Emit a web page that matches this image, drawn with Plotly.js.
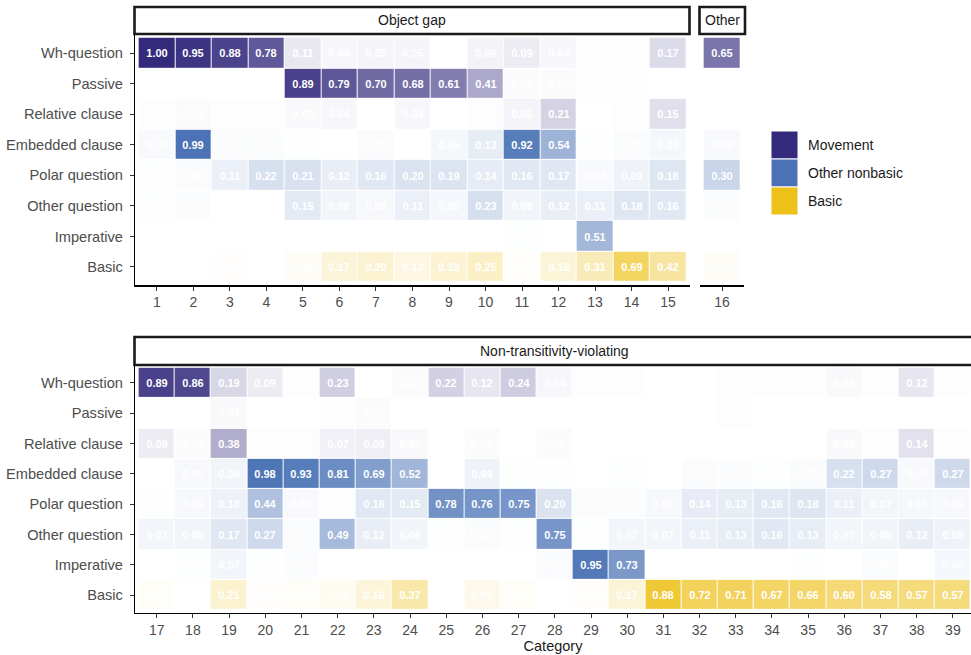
<!DOCTYPE html>
<html>
<head>
<meta charset="utf-8">
<script src="https://cdn.plot.ly/plotly-3.0.1.min.js"></script>
<style>
  html, body { margin: 0; padding: 0; background: #ffffff; }
  #chart { width: 971px; height: 655px; }
</style>
</head>
<body>
<div id="chart"></div>
<script>
// Construction types (rows, top to bottom) and the group each belongs to
const rowLabels = ["Wh-question", "Passive", "Relative clause", "Embedded clause",
                   "Polar question", "Other question", "Imperative", "Basic"];
const rowGroups = ["Movement", "Movement", "Movement", "Other nonbasic",
                   "Other nonbasic", "Other nonbasic", "Other nonbasic", "Basic"];

const groupNames = ["Movement", "Other nonbasic", "Basic"];
const groupColors = ["#332a7c", "#4a72b5", "#edc01a"];

// Proportions per category 1..39 (null = no cell)
const whQuestion = [1.00, 0.95, 0.88, 0.78, 0.11, 0.04, 0.05, 0.05, null, 0.06, 0.09, 0.04, 0.01, 0.01, 0.17, 0.65,
  0.89, 0.86, 0.19, 0.09, 0.01, 0.23, null, 0.02, 0.22, 0.12, 0.24, 0.04, 0.01, 0.01, null, null, 0.01, 0.01, 0.01, 0.03, 0.01, 0.12, 0.01];
const passive = [null, null, null, null, 0.89, 0.79, 0.70, 0.68, 0.61, 0.41, 0.02, 0.02, 0.01, 0.01, null, null,
  null, null, 0.03, null, null, 0.01, 0.02, null, null, null, null, null, null, null, null, null, 0.01, null, null, null, null, null, null];
const relativeClause = [0.01, 0.02, 0.01, 0.01, 0.03, 0.04, null, 0.04, null, 0.01, 0.05, 0.21, null, 0.01, 0.15, null,
  0.09, 0.02, 0.38, 0.01, 0.01, 0.07, 0.08, 0.03, null, 0.02, null, 0.02, null, null, null, null, null, null, null, 0.03, 0.01, 0.14, 0.01];
const embeddedClause = [0.04, 0.99, 0.02, 0.02, 0.01, null, 0.03, null, 0.06, 0.13, 0.92, 0.54, 0.01, 0.03, 0.06, 0.04,
  null, 0.05, 0.08, 0.98, 0.93, 0.81, 0.69, 0.52, null, 0.09, 0.01, 0.01, null, 0.01, null, 0.03, 0.02, 0.01, 0.03, 0.22, 0.27, 0.04, 0.27];
const polarQuestion = [0.01, 0.03, 0.11, 0.22, 0.21, 0.12, 0.16, 0.20, 0.19, 0.14, 0.16, 0.17, 0.04, 0.09, 0.18, 0.30,
  0.01, 0.05, 0.10, 0.44, 0.04, 0.01, 0.16, 0.15, 0.78, 0.76, 0.75, 0.20, 0.02, 0.02, 0.05, 0.14, 0.13, 0.16, 0.18, 0.11, 0.07, 0.06, 0.05];
const otherQuestion = [0.01, 0.02, null, null, 0.15, 0.08, 0.05, 0.11, 0.06, 0.23, 0.08, 0.12, 0.11, 0.18, 0.16, 0.02,
  0.07, 0.08, 0.17, 0.27, 0.02, 0.49, 0.12, 0.08, 0.01, 0.03, 0.01, 0.75, 0.01, 0.07, 0.07, 0.11, 0.13, 0.16, 0.13, 0.07, 0.08, 0.12, 0.09];
const imperative = [null, null, null, null, null, null, null, null, null, null, 0.01, null, 0.51, null, null, null,
  null, 0.01, 0.07, 0.01, 0.02, null, null, null, null, null, null, 0.03, 0.95, 0.73, null, null, null, null, 0.01, null, 0.02, null, 0.06];
const basic = [null, null, 0.01, null, 0.04, 0.17, 0.20, 0.13, 0.19, 0.25, 0.02, 0.18, 0.31, 0.69, 0.42, 0.04,
  0.03, null, 0.21, 0.01, 0.03, 0.06, 0.16, 0.37, null, 0.09, 0.03, null, 0.02, 0.17, 0.88, 0.72, 0.71, 0.67, 0.66, 0.60, 0.58, 0.57, 0.57];

const rowValues = [whQuestion, passive, relativeClause, embeddedClause,
                   polarQuestion, otherQuestion, imperative, basic];

// Facet panels and the categories they hold
const objectGapCats = [1, 2, 3, 4, 5, 6, 7, 8, 9, 10, 11, 12, 13, 14, 15];
const otherCats = [16];
const nonTransCats = [17, 18, 19, 20, 21, 22, 23, 24, 25, 26, 27, 28, 29, 30, 31, 32, 33, 34, 35, 36, 37, 38, 39];

const panels = [
  { cats: objectGapCats, xaxis: "x",  yaxis: "y"  },
  { cats: otherCats,     xaxis: "x2", yaxis: "y"  },
  { cats: nonTransCats,  xaxis: "x3", yaxis: "y3" }
];

const rowIdx = rowLabels.map((_, i) => i + 1);
const W = 971, H = 655;
const px = v => v / W;           // pixel -> paper x
const py = v => 1 - v / H;       // pixel (from top) -> paper y

const traces = [];
panels.forEach(p => {
  groupNames.forEach((g, gi) => {
    const z = [], txt = [];
    rowLabels.forEach((r, ri) => {
      const zr = [], tr = [];
      p.cats.forEach(c => {
        const v = rowGroups[ri] === g ? rowValues[ri][c - 1] : null;
        zr.push(v);
        tr.push(v === null ? "" : v.toFixed(2));
      });
      z.push(zr); txt.push(tr);
    });
    traces.push({
      type: "heatmap",
      x: p.cats, y: rowIdx, z: z, text: txt,
      xaxis: p.xaxis, yaxis: p.yaxis,
      zmin: 0, zmax: 1,
      colorscale: [[0, "#ffffff"], [1, groupColors[gi]]],
      showscale: false,
      xgap: 1, ygap: 1,
      texttemplate: "%{text}",
      textfont: { family: "Liberation Sans, Arial, sans-serif", size: 11, color: "#ffffff", weight: "bold" },
      hoverinfo: "skip"
    });
  });
});

const tickFont = { family: "Liberation Sans, Arial, sans-serif", size: 14, color: "#4d4d4d" };
const axBase = {
  showgrid: false, zeroline: false, showline: true, linecolor: "#000000", linewidth: 1.2,
  ticks: "outside", ticklen: 4, tickwidth: 1, tickcolor: "#333333", tickfont: tickFont,
  fixedrange: true
};

const topY0 = 34.7, topY1 = 285.3, botY0 = 364.8, botY1 = 613.2;

const layout = {
  width: W, height: H,
  margin: { l: 0, r: 0, t: 0, b: 0 },
  paper_bgcolor: "#ffffff", plot_bgcolor: "#ffffff",
  showlegend: false,
  font: { family: "Liberation Sans, Arial, sans-serif" },
  xaxis: Object.assign({}, axBase, {
    domain: [px(135), px(690)], range: [0.4, 15.6], anchor: "y",
    tickmode: "array", tickvals: objectGapCats, ticktext: objectGapCats.map(String)
  }),
  xaxis2: Object.assign({}, axBase, {
    domain: [px(700), px(744)], range: [15.4, 16.6], anchor: "y",
    tickmode: "array", tickvals: otherCats, ticktext: otherCats.map(String)
  }),
  yaxis: Object.assign({}, axBase, {
    domain: [py(topY1), py(topY0)], range: [8.6, 0.4], anchor: "x",
    tickmode: "array", tickvals: rowIdx, ticktext: rowLabels,
    tickfont: Object.assign({}, tickFont, { size: 14.6 }), ticklabelstandoff: 4
  }),
  xaxis3: Object.assign({}, axBase, {
    domain: [px(135), 1], range: [16.4, 39.5], anchor: "y3",
    tickmode: "array", tickvals: nonTransCats, ticktext: nonTransCats.map(String),
    title: { text: "Category", standoff: 2,
             font: { family: "Liberation Sans, Arial, sans-serif", size: 14.5, color: "#1a1a1a" } }
  }),
  yaxis3: Object.assign({}, axBase, {
    domain: [py(botY1), py(botY0)], range: [8.6, 0.4], anchor: "x3",
    tickmode: "array", tickvals: rowIdx, ticktext: rowLabels,
    tickfont: Object.assign({}, tickFont, { size: 14.6 }), ticklabelstandoff: 4
  }),
  shapes: [],
  annotations: []
};

// Facet strips
const strips = [
  { label: "Object gap", x0: 134.5, x1: 689.5, y0: 7, y1: 34 },
  { label: "Other", x0: 699.5, x1: 745, y0: 7, y1: 34 },
  { label: "Non-transitivity-violating", x0: 134.5, x1: 975, y0: 337, y1: 365 }
];
strips.forEach(s => {
  layout.shapes.push({
    type: "rect", xref: "paper", yref: "paper",
    x0: px(s.x0), x1: px(s.x1), y0: py(s.y1), y1: py(s.y0),
    line: { color: "#1a1a1a", width: 2.6 }, fillcolor: "#ffffff", layer: "below"
  });
  layout.annotations.push({
    xref: "paper", yref: "paper",
    x: px((s.x0 + s.x1) / 2), y: py((s.y0 + s.y1) / 2),
    text: s.label, showarrow: false, xanchor: "center", yanchor: "middle",
    font: { family: "Liberation Sans, Arial, sans-serif", size: 14, color: "#1a1a1a" }
  });
});

// Legend keys for the three groups
groupNames.forEach((g, gi) => {
  const top = 131 + gi * 28;
  layout.shapes.push({
    type: "rect", xref: "paper", yref: "paper",
    x0: px(771), x1: px(798), y0: py(top + 28), y1: py(top),
    line: { color: "#ffffff", width: 1 }, fillcolor: groupColors[gi]
  });
  layout.annotations.push({
    xref: "paper", yref: "paper", x: px(806), y: py(top + 14),
    text: g, showarrow: false, xanchor: "left", yanchor: "middle",
    font: { family: "Liberation Sans, Arial, sans-serif", size: 14, color: "#1a1a1a" }
  });
});

Plotly.newPlot("chart", traces, layout, { displayModeBar: false, staticPlot: true });
</script>
</body>
</html>
